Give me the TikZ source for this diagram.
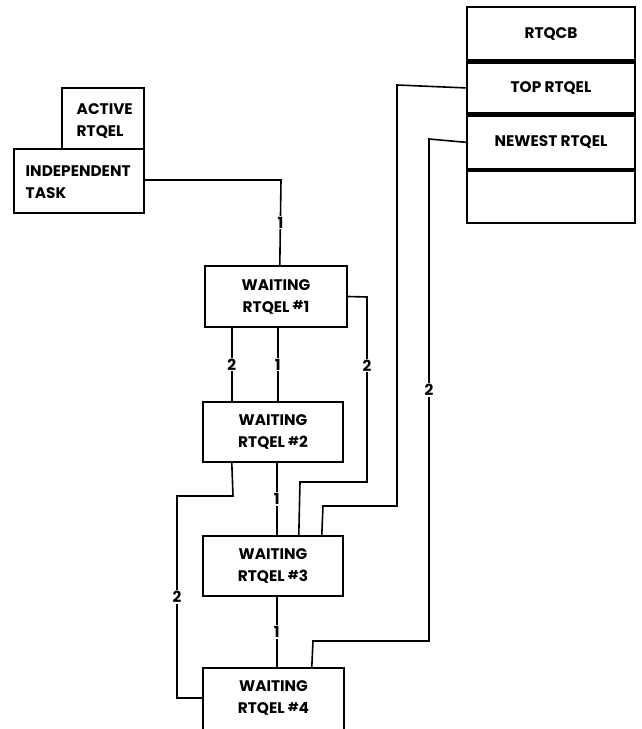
\documentclass[tikz,border=0pt]{standalone}
\usepackage{fontspec}
\setmainfont{Poppins}
\usetikzlibrary{calc}
\newcommand{\nr}[1]{{\fontsize{9}{9}\selectfont\raisebox{0.35ex}{\#}}#1}
\newcommand{\bxfont}{\fontsize{11.5}{16.5}\selectfont\bfseries}
\tikzset{
  box/.style={draw, line width=1.8pt, inner sep=0pt, font=\bxfont},
  wbox/.style={box, align=center},
  rbox/.style={box, minimum width=126pt, align=center},
  wire/.style={line width=1.2pt},
  lab/.style={fill=white, inner sep=0.8pt, font=\fontsize{11.5}{11.5}\selectfont\bfseries}
}
\begin{document}
\begin{tikzpicture}[x=0.75pt, y=-0.75pt]
\useasboundingbox (0,0) rectangle (642,729);
% left boxes
\node[box, minimum width=82*0.75pt, minimum height=61*0.75pt] (act) at (103,118.5) {};
\node[font=\bxfont, align=left, anchor=west] (actt) at (72,121) {ACTIVE\\RTQEL};
\node[box, minimum width=130*0.75pt, minimum height=64*0.75pt, fill=white] (ind) at (79,181) {};
\node[font=\bxfont, align=left, anchor=west] (indt) at (21,182) {INDEPENDENT\\TASK};
% waiting boxes
\node[wbox, minimum width=142*0.75pt, minimum height=61*0.75pt] (w1) at (276,296.5) {WAITING\\RTQEL \nr{1}};
\node[wbox, minimum width=140*0.75pt, minimum height=60*0.75pt] (w2) at (273,432) {WAITING\\RTQEL \nr{2}};
\node[wbox, minimum width=140*0.75pt, minimum height=60*0.75pt] (w3) at (273,566) {WAITING\\RTQEL \nr{3}};
\node[wbox, minimum width=141*0.75pt, minimum height=66*0.75pt] (w4) at (273.5,701) {};
\node[font=\bxfont, align=center] (w4t) at (273.5,698) {WAITING\\RTQEL \nr{4}};
% RTQCB
\node[rbox, minimum height=53*0.75pt] (cb) at (551,33.5) {RTQCB};
\node[rbox, minimum height=51*0.75pt, anchor=north] (top) at (cb.south) {TOP RTQEL};
\node[rbox, minimum height=53*0.75pt, anchor=north] (new) at (top.south) {NEWEST RTQEL};
\node[rbox, minimum height=52*0.75pt, anchor=north] (emp) at (new.south) {};
% connectors
\draw[wire] (ind.east |- 0,180) -- (281,180) -- node[lab, pos=0.5]{1} ($(w1.north west)+(76,0)$);
\draw[wire] ($(w1.south west)+(28,0)$) -- node[lab]{2} ($(w2.north west)+(30,0)$);
\draw[wire] ($(w1.south west)+(74,0)$) -- node[lab]{1} ($(w2.north west)+(76,0)$);
\draw[wire] (w1.east) -- (367,297) -- node[lab, pos=0.37]{2} (367,482) -- (300,482) -- ($(w3.north west)+(97,0)$);
\draw[wire] ($(w2.south west)+(30,0)$) -- (233,496) -- (177,496) -- node[lab, pos=0.5]{2} (177,698) -- (w4.west |- 0,698);
\draw[wire] ($(w2.south west)+(75,0)$) -- node[lab]{1} ($(w3.north west)+(75,0)$);
\draw[wire] (top.west) -- (397,85) -- (397,506) -- (323,506) -- ($(w3.north west)+(120,0)$);
\draw[wire] (new.west) -- (429,139) -- node[lab, pos=0.5]{2} (429,641) -- (313,641) -- ($(w4.north west)+(110,0)$);
\draw[wire] ($(w3.south west)+(75,0)$) -- node[lab]{1} ($(w4.north west)+(75,0)$);
\end{tikzpicture}
\end{document}
